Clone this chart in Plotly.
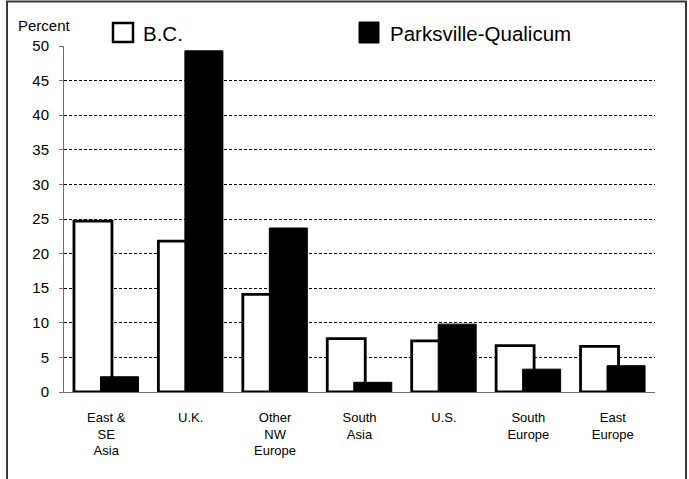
import plotly.graph_objects as go

categories = ["East & SE Asia", "U.K.", "Other NW Europe", "South Asia", "U.S.", "South Europe", "East Europe"]
tick_labels = ["East &<br>SE<br>Asia", "U.K.", "Other<br>NW<br>Europe", "South<br>Asia", "U.S.", "South<br>Europe", "East<br>Europe"]
bc_values = [24.7, 21.8, 14.1, 7.7, 7.4, 6.7, 6.6]
pq_values = [2.2, 49.3, 23.7, 1.4, 9.8, 3.3, 3.8]
series_names = ["B.C.", "Parksville-Qualicum"]
y_ticks = [0, 5, 10, 15, 20, 25, 30, 35, 40, 45, 50]

FONT = "Liberation Sans, Arial, sans-serif"
W, H = 689, 479
L, R, T, B = 64, 34, 46, 87
pw, ph = W - L - R, H - T - B

def px_x(x):
    return (x - L) / pw

def px_y(y):
    return 1 + (T - y) / ph

bw = 0.45
fig = go.Figure()
fig.add_trace(go.Bar(
    x=categories, y=bc_values, name=series_names[0],
    width=bw, offset=-0.157 - bw / 2,
    marker=dict(color="white", line=dict(color="black", width=2.8)),
    showlegend=False,
))
fig.add_trace(go.Bar(
    x=categories, y=pq_values, name=series_names[1],
    width=bw, offset=0.157 - bw / 2,
    marker=dict(color="black", line=dict(color="black", width=1)),
    showlegend=False,
))

shapes = [
    # outer frame
    dict(type="rect", xref="paper", yref="paper",
         x0=px_x(7), x1=px_x(686), y0=px_y(1.5), y1=px_y(520),
         line=dict(color="#3a3a3a", width=2), fillcolor="rgba(0,0,0,0)", layer="above"),
    # legend keys
    dict(type="rect", xref="paper", yref="paper",
         x0=px_x(113), x1=px_x(133), y0=px_y(23), y1=px_y(42),
         line=dict(color="black", width=2.5), fillcolor="white"),
    dict(type="rect", xref="paper", yref="paper",
         x0=px_x(359), x1=px_x(379), y0=px_y(22), y1=px_y(43),
         line=dict(color="black", width=1), fillcolor="black"),
]

annotations = [
    dict(text="Percent", xref="paper", yref="paper", x=px_x(16), y=px_y(26),
         xanchor="left", yanchor="middle", showarrow=False,
         font=dict(family=FONT, size=15, color="black")),
    dict(text=series_names[0], xref="paper", yref="paper", x=px_x(141), y=px_y(34),
         xanchor="left", yanchor="middle", showarrow=False,
         font=dict(family=FONT, size=20.5, color="black")),
    dict(text=series_names[1], xref="paper", yref="paper", x=px_x(388), y=px_y(34),
         xanchor="left", yanchor="middle", showarrow=False,
         font=dict(family=FONT, size=20.5, color="black")),
]

fig.update_layout(
    width=W, height=H,
    margin=dict(l=L, r=R, t=T, b=B, pad=0),
    paper_bgcolor="white", plot_bgcolor="white",
    barmode="overlay",
    font=dict(family=FONT, color="black"),
    shapes=shapes, annotations=annotations,
    showlegend=False,
)
fig.update_xaxes(
    type="category", range=[-0.5, 6.5],
    tickmode="array", tickvals=categories, ticktext=tick_labels,
    showgrid=False, showline=True, linecolor="#707070", linewidth=1,
    ticks="", tickfont=dict(family=FONT, size=13, color="black"),
    ticklabelstandoff=13, zeroline=False,
)
fig.update_yaxes(
    range=[0, 50], tickmode="array", tickvals=y_ticks,
    showgrid=True, gridcolor="black", gridwidth=1, griddash="3px,2px",
    showline=True, linecolor="#707070", linewidth=1,
    ticks="outside", ticklen=4, tickcolor="#707070",
    tickfont=dict(family=FONT, size=15, color="black"),
    ticklabelstandoff=7, zeroline=False,
)

fig.write_html(
    "out.html",
    config={"displayModeBar": False},
    post_script="document.body.style.margin='0';document.body.style.overflow='hidden';",
)
